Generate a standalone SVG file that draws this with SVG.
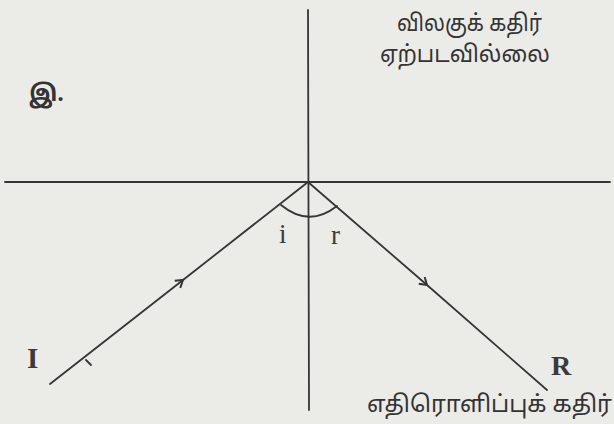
<svg xmlns="http://www.w3.org/2000/svg" width="614" height="424" viewBox="0 0 614 424">
<defs>
<style>
.ln{stroke:#353535;stroke-width:1.8;fill:none;stroke-linecap:round}
.ta{font-family:"Noto Sans Tamil","Latha","Noto Sans",sans-serif;fill:#333;font-size:23px}
.lat{font-family:"Liberation Serif",serif;fill:#3a3a3a}
</style>
<marker id="chev" markerWidth="14" markerHeight="12" refX="0" refY="0" viewBox="-8 -6 10 12" orient="auto" markerUnits="userSpaceOnUse">
<path d="M-7,-4.5 L0,0 L-7,4.5" stroke="#353535" stroke-width="2" fill="none"/>
</marker>
</defs>
<rect width="614" height="424" fill="#ebebe7"/>
<g id="connectors">
<line id="normal" class="ln" x1="308" y1="10" x2="309" y2="410"/>
<line id="mirror" class="ln" x1="5" y1="182" x2="610" y2="182"/>
<path id="incident" class="ln" d="M50 384 L183 280 L308 182" marker-mid="url(#chev)"/>
<path id="reflected" class="ln" d="M308 182 L427 285 L547 390" marker-mid="url(#chev)"/>
<path id="angle-arc" class="ln" stroke-width="2.2" d="M281 205 Q309 228 337 206"/>
<path class="ln" d="M86 360 L91 365" stroke-width="1.2"/>
</g>
<g id="label-i"><text class="lat" x="279" y="243" font-size="27">i</text></g>
<g id="label-r"><text class="lat" x="331" y="244" font-size="27">r</text></g>
<g id="label-I"><text class="lat" x="27" y="368" font-size="29" font-weight="bold">I</text></g>
<g id="label-R"><text class="lat" x="551" y="375" font-size="28" font-weight="bold">R</text></g>
<g id="label-part"><text class="ta" x="29" y="101" font-size="30" font-weight="bold">இ.</text></g>
<g id="refracted-note">
<text class="ta" x="397" y="31" textLength="145" lengthAdjust="spacingAndGlyphs">விலகுக் கதிர்</text>
<text class="ta" x="380" y="62" textLength="170" lengthAdjust="spacingAndGlyphs">ஏற்படவில்லை</text>
</g>
<g id="reflected-label">
<text class="ta" x="367" y="412" font-size="22" textLength="245" lengthAdjust="spacingAndGlyphs">எதிரொளிப்புக் கதிர்</text>
</g>
</svg>
